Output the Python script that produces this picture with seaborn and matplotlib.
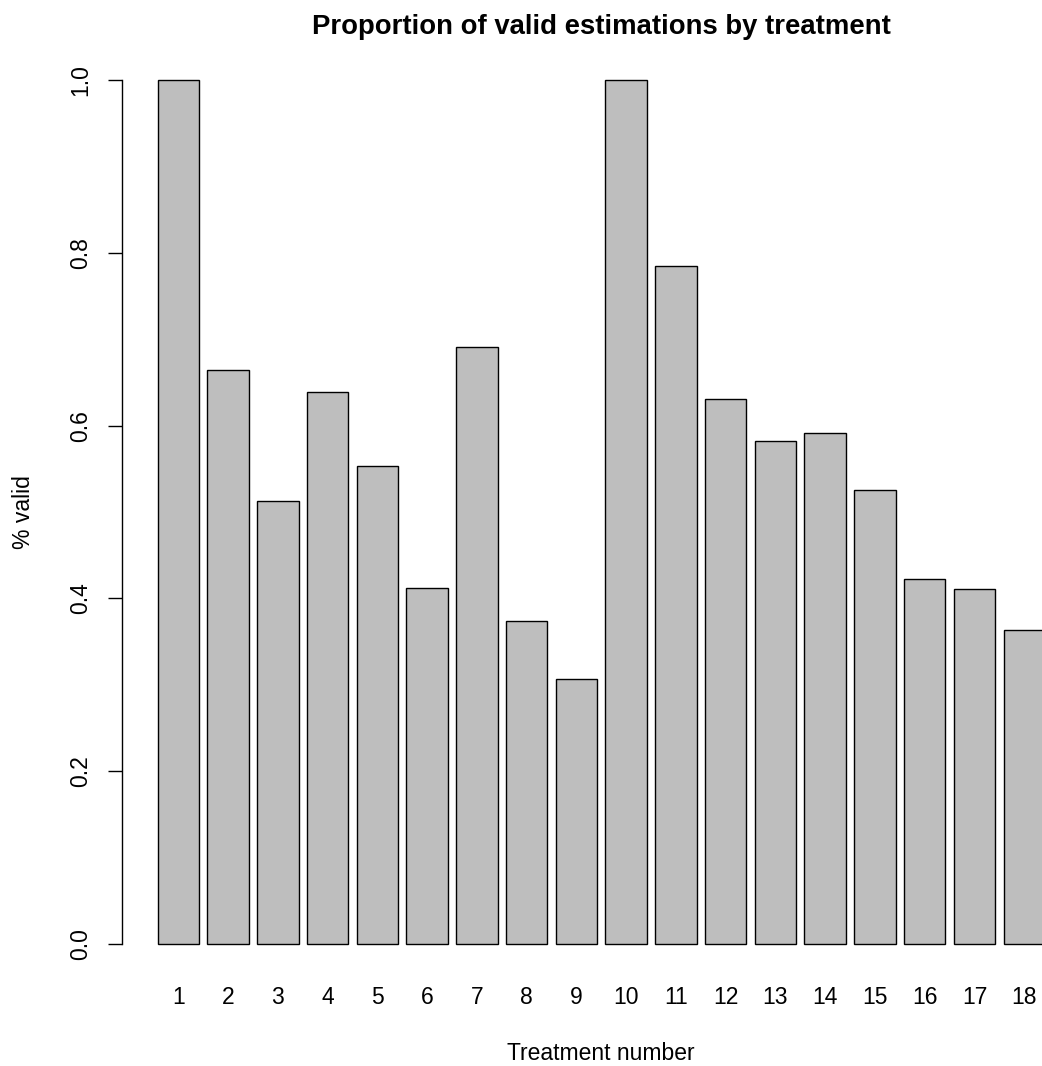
import matplotlib
matplotlib.use("Agg")
import matplotlib.pyplot as plt
import seaborn as sns
import pandas as pd

# ---- data ----
treatments = [str(i) for i in range(1, 19)]
valid_prop = [1.000, 0.664, 0.513, 0.639, 0.553, 0.412, 0.691, 0.374, 0.307,
              1.000, 0.785, 0.631, 0.582, 0.591, 0.525, 0.423, 0.411, 0.363]
y_ticks = [0.0, 0.2, 0.4, 0.6, 0.8, 1.0]
y_tick_labels = ["0.0", "0.2", "0.4", "0.6", "0.8", "1.0"]
title = "Proportion of valid estimations by treatment"
x_label = "Treatment number"
y_label = "% valid"

plt.rcParams['font.family'] = ['Liberation Sans', 'DejaVu Sans']

W, H = 1042, 1066
fig = plt.figure(figsize=(W / 100, H / 100), dpi=100)

# plot region in pixels (R-like layout; extends past right edge)
left_px, right_px = 122.0, 1080.5
top_px, bottom_px = 45.4, 978.6
ax = fig.add_axes([left_px / W, 1 - bottom_px / H,
                   (right_px - left_px) / W, (bottom_px - top_px) / H])

df = pd.DataFrame({"treatment": treatments, "valid": valid_prop})
sns.barplot(data=df, x="treatment", y="valid", order=treatments,
            color="#BEBEBE", saturation=1, edgecolor="black",
            linewidth=1.0, width=1 / 1.2, ax=ax)

ax.set_xlim(-1.13, 18.13)
ax.set_ylim(-0.04, 1.04)

for s in ["top", "right", "bottom"]:
    ax.spines[s].set_visible(False)
ax.spines["left"].set_bounds(0, 1)
ax.spines["left"].set_linewidth(1.0)
ax.spines["left"].set_color("black")

fs = 16.5
ax.set_yticks(y_ticks)
ax.set_yticklabels(y_tick_labels, fontsize=fs)
ax.tick_params(axis="y", length=10.1, width=1.0, color="black", pad=15)
plt.setp(ax.get_yticklabels(), rotation=90, rotation_mode="anchor",
         ha="center", va="baseline")

ax.set_xticks(range(len(treatments)))
ax.set_xticklabels(treatments, fontsize=fs)
ax.tick_params(axis="x", length=0, pad=18.3)
plt.setp(ax.get_xticklabels(), va="baseline")

ax.set_xlabel("")
ax.set_ylabel("")

fig.text(601 / W, 1 - 34 / H, title, fontsize=fs * 1.2, fontweight="bold",
         ha="center", va="baseline")
fig.text(601 / W, 1 - 1060 / H, x_label, fontsize=fs, ha="center", va="baseline")
fig.text(24 / W, 1 - 512 / H, y_label, fontsize=fs, rotation=90,
         ha="center", va="center")

fig.savefig("out.png", dpi=100, facecolor="white")
